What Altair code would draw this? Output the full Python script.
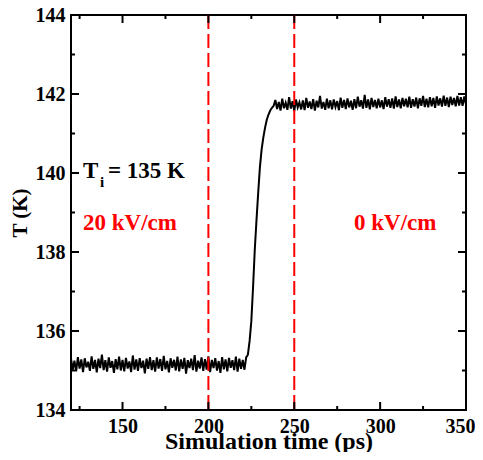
import altair as alt
import pandas as pd

# ---- data ----
t_start = 120  # ps, one sample per ps
base = [
    135.30, 135.02, 135.25, 134.98, 135.34, 135.05, 135.28, 134.96, 135.31, 135.08,
    135.22, 134.99, 135.36, 135.04, 135.27, 134.95, 135.30, 135.06, 135.40, 135.01,
    135.26, 134.97, 135.33, 135.07, 135.24, 134.94, 135.29, 135.03, 135.35, 135.00,
    135.27, 134.98, 135.32, 135.05, 135.23, 134.96, 135.38, 135.02, 135.28, 134.99,
    135.31, 135.06, 135.25, 134.93, 135.30, 135.04, 135.34, 135.01, 135.26, 134.97,
    135.33, 135.05, 135.29, 134.99, 135.37, 135.03, 135.24, 134.95, 135.31, 135.07,
    135.27, 135.00, 135.35, 134.98, 135.28, 135.04, 135.32, 134.92, 135.26, 135.06,
    135.30, 135.01, 135.39, 134.97, 135.25, 135.05, 135.33, 134.99, 135.29, 135.02,
    135.36, 134.96, 135.27, 135.06, 135.31, 135.00, 135.24, 134.94, 135.34, 135.03,
    135.28, 134.98, 135.32, 135.07, 135.26, 135.01, 135.35, 134.97, 135.30, 135.04,
    135.27, 135.02, 135.33,
]
rise = [
    135.40, 135.75, 136.25, 137.10, 138.05, 138.80, 139.50, 140.15, 140.60, 140.90,
    141.15, 141.35, 141.48, 141.58, 141.65, 141.70,
]
plateau = [
    141.85, 141.62, 141.80, 141.58, 141.88, 141.64, 141.78, 141.60, 141.92, 141.63,
    141.82, 141.57, 141.86, 141.66, 141.79, 141.61, 141.84, 141.59, 141.90, 141.65,
    141.81, 141.62, 141.87, 141.58, 141.83, 141.66, 141.95, 141.63, 141.80, 141.60,
    141.88, 141.64, 141.84, 141.61, 141.86, 141.67, 141.82, 141.59, 141.91, 141.65,
    141.85, 141.62, 141.89, 141.66, 141.83, 141.60, 141.87, 141.64, 141.93, 141.68,
    141.84, 141.63, 141.98, 141.65, 141.86, 141.61, 141.90, 141.67, 141.85, 141.64,
    141.88, 141.66, 141.84, 141.62, 141.92, 141.68, 141.87, 141.65, 141.89, 141.63,
    141.94, 141.67, 141.86, 141.64, 141.90, 141.69, 141.88, 141.66, 141.93, 141.65,
    141.87, 141.68, 141.91, 141.64, 141.89, 141.70, 141.95, 141.67, 141.88, 141.66,
    141.92, 141.69, 141.90, 141.65, 141.94, 141.71, 141.89, 141.68, 141.96, 141.70,
    141.91, 141.67, 141.93, 141.72, 141.90, 141.69, 141.95, 141.71, 141.92, 141.70,
    141.94, 141.73,
]
field_switch = [200, 250]
x_major = [150, 200, 250, 300, 350]
x_minor = [125, 175, 225, 275, 325]
y_major = [134, 136, 138, 140, 142, 144]
y_minor = [135, 137, 139, 141, 143]

temps = base + rise + plateau
df = pd.DataFrame({"t": list(range(t_start, t_start + len(temps))), "T": temps})

W, H = 395, 395
FONT = "Liberation Serif"
RED = "#ff0000"

xs = alt.Scale(domain=[120, 350], nice=False, zero=False)
ys = alt.Scale(domain=[134, 144], nice=False, zero=False)
XT = "Simulation time (ps)"
YT = "T (K)"
xaxis = alt.Axis(values=x_major, ticks=False, tickSize=0, domain=False, grid=False,
                 labelPadding=6, labelFlush=True, labelFlushOffset=9, labelOverlap=False,
                 titleFontSize=24, titleY=38, titleBaseline="alphabetic")
yaxis = alt.Axis(values=y_major, ticks=False, tickSize=0, domain=False, grid=False,
                 labelPadding=6, labelFlush=False, labelOverlap=False,
                 titleFontSize=21, titleX=-45, titleBaseline="alphabetic")


def X(f):
    return alt.X(f, scale=xs, axis=xaxis, title=XT)


def Y(f):
    return alt.Y(f, scale=ys, axis=yaxis, title=YT)


line = alt.Chart(df).mark_line(color="black", strokeWidth=2).encode(x=X("t:Q"), y=Y("T:Q"))

rules = alt.Chart(pd.DataFrame({"x": field_switch})).mark_rule(
    color=RED, strokeWidth=2, strokeDash=[14, 5]
).encode(x=X("x:Q"))


def xticks(vals, length, bottom=True):
    y0 = H if bottom else 0
    y1 = H - length if bottom else length
    return alt.Chart(pd.DataFrame({"v": vals})).mark_rule(color="black", strokeWidth=2).encode(
        x=X("v:Q"), y=alt.value(y0), y2=alt.value(y1))


def yticks(vals, length, left=True):
    x0 = 0 if left else W
    x1 = length if left else W - length
    return alt.Chart(pd.DataFrame({"v": vals})).mark_rule(color="black", strokeWidth=2).encode(
        y=Y("v:Q"), x=alt.value(x0), x2=alt.value(x1))


tick_layers = [
    xticks(x_major, 8, True), xticks(x_minor, 4, True),
    xticks(x_major, 8, False), xticks(x_minor, 4, False),
    yticks(y_major, 8, True), yticks(y_minor, 4, True),
    yticks(y_major, 8, False), yticks(y_minor, 4, False),
]


def label(x, y, text, color, size=23):
    return alt.Chart(pd.DataFrame({"x": [x], "y": [y], "label": [text]})).mark_text(
        align="left", baseline="alphabetic", font=FONT, fontWeight="bold",
        fontSize=size, color=color
    ).encode(x=X("x:Q"), y=Y("y:Q"), text="label:N")


texts = [
    label(127, 139.87, "T", "black"),
    label(141.5, 139.87, "= 135 K", "black"),
    label(136.9, 139.64, "i", "black", 15),
    label(127, 138.56, "20 kV/cm", RED),
    label(284.8, 138.56, "0 kV/cm", RED),
]

chart = alt.layer(line, rules, *tick_layers, *texts).properties(
    width=W, height=H,
    autosize=alt.AutoSizeParams(type="none"),
    padding={"left": 63, "top": 7, "right": 9, "bottom": 42},
).configure_view(stroke="black", strokeWidth=2).configure_axis(
    labelFont=FONT, labelFontWeight="bold", labelFontSize=20, labelColor="black",
    titleFont=FONT, titleFontWeight="bold", titleColor="black",
)

chart.save("out.html", embed_options={"renderer": "svg", "actions": False})
